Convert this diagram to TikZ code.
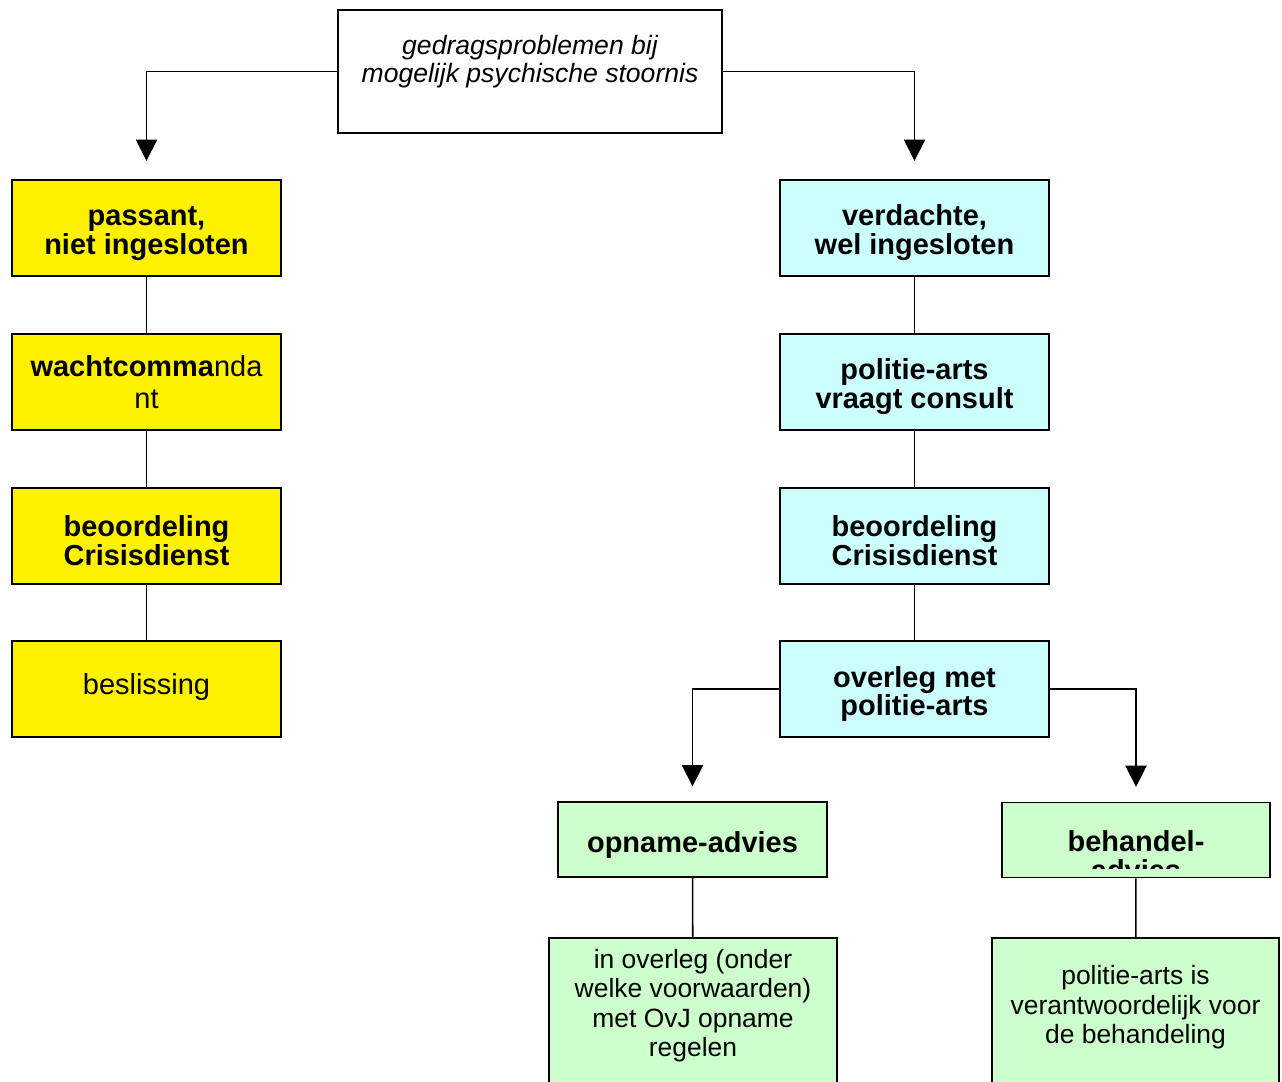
\documentclass[tikz,border=0pt]{standalone}
\usepackage{fontspec}
\setmainfont{Liberation Sans}
\usetikzlibrary{arrows.meta}
\usetikzlibrary{calc}

\newlength{\pxu}
\setlength{\pxu}{0.025cm}
\newcommand{\hoog}{\rule{0pt}{31\pxu}}
\definecolor{lichtblauw}{HTML}{CCFFFF}
\definecolor{lichtgroen}{HTML}{CCFFCC}

\begin{document}
\begin{tikzpicture}[x=0.025cm, y=-0.025cm,
  lijn/.style={line width=1.1pt},
  pijl/.style={lijn, -{Triangle[length=15pt, width=15pt]}},
  blok/.style={draw, line width=1.3pt, inner sep=0pt, align=center,
    minimum width=269*\pxu, minimum height=96*\pxu,
    font=\fontsize{20.6}{20.6}\selectfont\bfseries},
  geel/.style={blok, fill=yellow},
  blauw/.style={blok, fill=lichtblauw},
  groen/.style={blok, fill=lichtgroen, minimum height=75*\pxu},
  uitleg/.style={blok, fill=lichtgroen, anchor=north, minimum width=288*\pxu,
    minimum height=200*\pxu, font=\fontsize{18.8}{21}\selectfont}]
\useasboundingbox (0,0) rectangle (1282,1081);

\node[blok, minimum width=384*\pxu, minimum height=123*\pxu,
  font=\fontsize{18.9}{19.9}\selectfont\itshape] (probleem) at (530,71.5)
  {gedragsproblemen bij\\mogelijk psychische stoornis\rule[-26\pxu]{0pt}{0pt}};

% passant
\node[geel] (p1) at (146.5,228) {\hoog passant,\\niet ingesloten};
\node[geel, font=\fontsize{20.6}{22.5}\selectfont\bfseries]
  (p2) at (146.5,382) {wachtcomma\mdseries nda\\\mdseries nt};
\node[geel] (p3) at (146.5,536) {\hoog beoordeling\\Crisisdienst};
\node[geel] (p4) at (146.5,689) {\mdseries\hoog beslissing\rule[-20\pxu]{0pt}{0pt}};

% verdachte
\node[blauw] (v1) at (914.5,228) {\hoog verdachte,\\wel ingesloten};
\node[blauw] (v2) at (914.5,382) {\hoog politie-arts\\vraagt consult};
\node[blauw] (v3) at (914.5,536) {\hoog beoordeling\\Crisisdienst};
\node[blauw] (v4) at (914.5,689) {\hoog overleg met\\politie-arts};

% advies
\node[groen] (opname) at (692.5,839.5) {\hoog opname-advies};
\node[groen, minimum width=268*\pxu] (behandel) at (1136,840) {};
\begin{scope}
  \clip (behandel.north west) rectangle ($(behandel.south east)+(0,-10)$);
  \node[font=\fontsize{20.6}{20.6}\selectfont\bfseries, align=center, inner sep=0pt]
    (behandeltekst) at (1136,856) {behandel-\\advies};
\end{scope}

\node[uitleg] (ovj) at (693,937)
  {in overleg (onder\\welke voorwaarden)\\met OvJ opname\\regelen\rule[-70\pxu]{0pt}{0pt}};
\node[uitleg, minimum width=287*\pxu] (behandeling) at (1135.5,937)
  {politie-arts is\\verantwoordelijk voor\\de behandeling\rule[-67\pxu]{0pt}{0pt}};

% verbindingen
\draw[pijl, shorten >=13pt] (probleem.west) -| (p1.north);
\draw[pijl, shorten >=13pt] (probleem.east) -| (v1.north);
\draw[pijl, shorten >=10.5pt] (v4.west) -| (opname.north);
\draw[pijl, shorten >=10.5pt] (v4.east) -| (behandel.north);
\foreach \a/\b in {p1/p2,p2/p3,p3/p4,v1/v2,v2/v3,v3/v4,opname/ovj,behandel/behandeling}
  \draw[lijn] (\a) -- (\b);
\end{tikzpicture}
\end{document}
